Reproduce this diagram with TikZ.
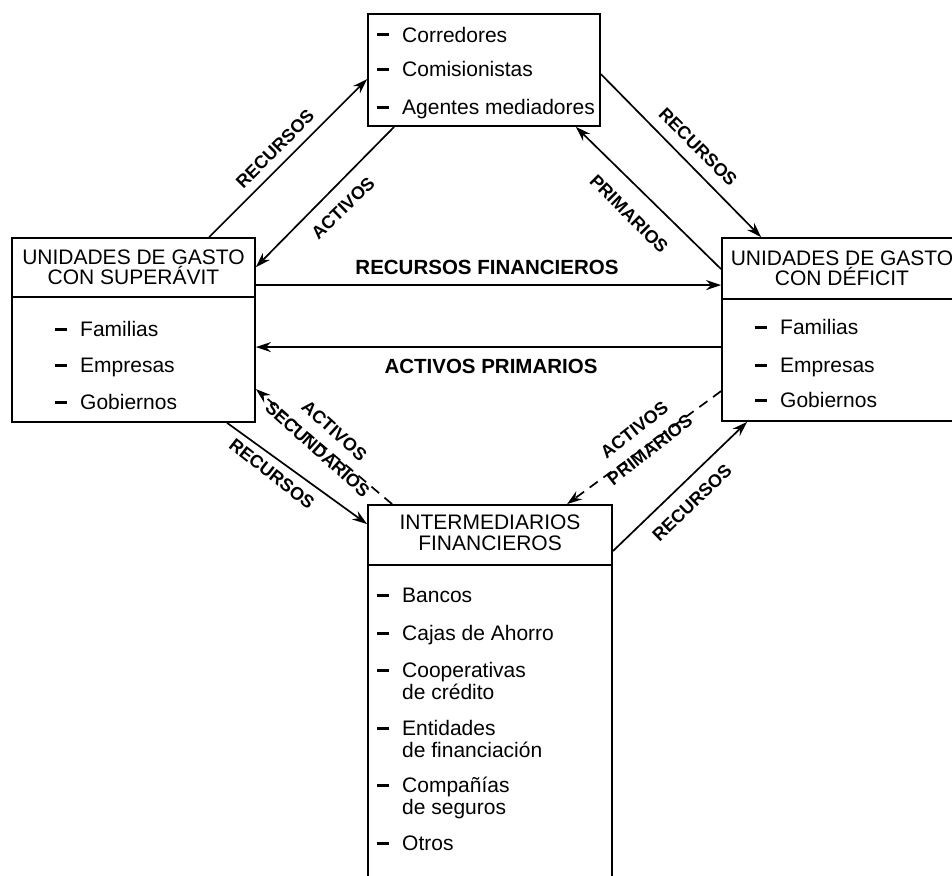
\documentclass[tikz,border=0pt]{standalone}
\usepackage{fontspec}
\setmainfont{Liberation Sans}
\usetikzlibrary{calc,arrows.meta}
\newcommand\dsh{\makebox[25pt][l]{\rule[5.5pt]{12pt}{3pt}}}
\begin{document}
\begin{tikzpicture}[x=1pt,y=-1pt,
  box/.style={draw, line width=1.8pt, inner sep=0pt, rectangle},
  conn/.style={line width=1.7pt, -{Stealth[length=15pt,width=10pt]}},
  dconn/.style={conn, dash pattern=on 10pt off 7pt},
  itm/.style={anchor=base west, inner sep=0pt, font=\fontsize{21}{22}\selectfont},
  ttl/.style={anchor=base, inner sep=0pt, font=\fontsize{21}{20}\selectfont},
  lbl/.style={font=\bfseries\fontsize{18}{25}\selectfont, inner sep=0pt, align=center},
  biglbl/.style={font=\bfseries\fontsize{20.5}{20}\selectfont, inner sep=0pt},
]
\useasboundingbox (0,0) rectangle (952,875);
\fill[white] (0,0) rectangle (952,875);
\clip (0,0) rectangle (952,875);

% boxes
\node[box, minimum width=232pt, minimum height=112pt] (T) at (484,70) {};
\node[box, minimum width=243pt, minimum height=184pt] (L) at (133.5,330) {};
\node[box, minimum width=240pt, minimum height=183pt] (R) at (842,329.5) {};
\node[box, minimum width=244pt, minimum height=395pt] (B) at (490,702.5) {};

% dividers
\draw[line width=1.8pt] ($(L.north west)+(0,60)$) -- ($(L.north east)+(0,60)$);
\draw[line width=1.8pt] ($(R.north west)+(0,62)$) -- ($(R.north east)+(0,62)$);
\draw[line width=1.8pt] ($(B.north west)+(0,61)$) -- ($(B.north east)+(0,61)$);

% top box items
\node[itm] (t1) at (377,42) {\dsh Corredores};
\node[itm] (t2) at (377,77) {\dsh Comisionistas};
\node[itm] (t3) at (377,114) {\dsh Agentes mediadores};

% left box
\node[ttl] (lt1) at (133.5,264.5) {UNIDADES DE GASTO};
\node[ttl] (lt2) at (133.5,284.5) {CON SUPERÁVIT};
\node[itm] (l1) at (55,336) {\dsh Familias};
\node[itm] (l2) at (55,372) {\dsh Empresas};
\node[itm] (l3) at (55,409) {\dsh Gobiernos};

% right box
\node[ttl] (rt1) at (842,265.5) {UNIDADES DE GASTO};
\node[ttl] (rt2) at (842,285.5) {CON DÉFICIT};
\node[itm] (r1) at (755,334) {\dsh Familias};
\node[itm] (r2) at (755,372) {\dsh Empresas};
\node[itm] (r3) at (755,407) {\dsh Gobiernos};

% bottom box
\node[ttl] (bt1) at (490,529.5) {INTERMEDIARIOS};
\node[ttl] (bt2) at (490,550.5) {FINANCIEROS};
\node[itm] (b1) at (377,602) {\dsh Bancos};
\node[itm] (b2) at (377,640) {\dsh Cajas de Ahorro};
\node[itm] (b3) at (377,677) {\dsh Cooperativas};
\node[itm] (b3b) at (402,699) {de crédito};
\node[itm] (b4) at (377,735) {\dsh Entidades};
\node[itm] (b4b) at (402,757) {de financiación};
\node[itm] (b5) at (377,792) {\dsh Compañías};
\node[itm] (b5b) at (402,814) {de seguros};
\node[itm] (b6) at (377,850) {\dsh Otros};

% connectors
\draw[conn] ($(L.north west)+(198,0)$) -- ($(T.north west)+(0,66)$);
\draw[conn] ($(T.south west)+(27,0)$) -- ($(L.north east)+(0,30)$);
\draw[conn] ($(T.north east)+(0,61)$) -- ($(R.north west)+(40,0)$);
\draw[conn] ($(R.north west)+(0,32)$) -- ($(T.south east)+(-25,0)$);
\draw[conn] ($(L.north east)+(0,48)$) -- ($(R.north west)+(0,48)$);
\draw[conn] ($(R.north west)+(0,110)$) -- ($(L.north east)+(0,110)$);
\draw[dconn] ($(B.north west)+(25,0)$) -- ($(L.north east)+(0,152)$);
\draw[conn] ($(L.south west)+(216,0)$) -- ($(B.north west)+(0,20)$);
\draw[dconn] ($(R.north west)+(0,154)$) -- ($(B.north west)+(200,0)$);
\draw[conn] ($(B.north east)+(0,47)$) -- ($(R.south west)+(26,0)$);

% labels
\node[lbl, rotate=45] (a1) at (275,149) {RECURSOS};
\node[lbl, rotate=44] (a2) at (343,208) {ACTIVOS};
\node[lbl, rotate=-45] (a3) at (698,147) {RECURSOS};
\node[lbl, rotate=-45] (a4) at (629,214) {PRIMARIOS};
\node[biglbl] (a5) at (487,267) {RECURSOS FINANCIEROS};
\node[biglbl] (a6) at (491,366) {ACTIVOS PRIMARIOS};
\node[lbl, rotate=-42] (a7) at (326,440) {ACTIVOS\\SECUNDARIOS};
\node[lbl, rotate=38] (a8) at (642,440) {ACTIVOS\\PRIMARIOS};
\node[lbl, rotate=-38] (a9) at (272,474) {RECURSOS};
\node[lbl, rotate=44] (a10) at (692,503) {RECURSOS};
\end{tikzpicture}
\end{document}
